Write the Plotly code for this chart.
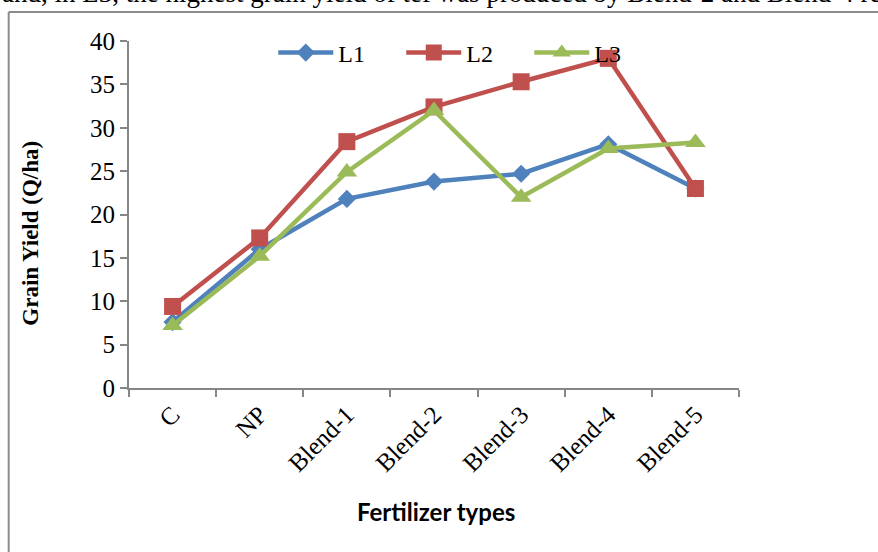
import plotly.graph_objects as go

categories = ["C", "NP", "Blend-1", "Blend-2", "Blend-3", "Blend-4", "Blend-5"]
L1 = [7.6, 16.0, 21.8, 23.8, 24.7, 28.1, 23.0]
L2 = [9.4, 17.3, 28.4, 32.4, 35.3, 38.0, 23.0]
L3 = [7.2, 15.2, 24.9, 32.0, 22.0, 27.6, 28.3]
y_ticks = [0, 5, 10, 15, 20, 25, 30, 35, 40]

W, H = 878, 552
L, R, T, B = 128.5, 138.5, 41, 164
pw, ph = W - L - R, H - T - B

def px(x):
    return (x - L) / pw

def py(y):
    return (H - B - y) / ph

fig = go.Figure()
series = [("L1", L1, "#4F81BD", "diamond", 14),
          ("L2", L2, "#C0504D", "square", 17),
          ("L3", L3, "#9BBB59", "triangle-up", 18)]
for name, vals, col, sym, sz in series:
    fig.add_trace(go.Scatter(
        x=categories, y=vals, name=name, mode="lines+markers",
        line=dict(color=col, width=4.5),
        marker=dict(symbol=sym, size=sz, color=col),
    ))

axis_col = "#868686"
fig.update_layout(
    width=W, height=H,
    margin=dict(l=L, r=R, t=T, b=B),
    paper_bgcolor="white", plot_bgcolor="white",
    font=dict(family="Liberation Serif", size=24, color="black"),
    showlegend=True,
    legend=dict(orientation="h", x=px(273), y=py(53), xanchor="left", yanchor="middle",
                font=dict(family="Liberation Serif", size=24),
                itemwidth=55, entrywidth=58, entrywidthmode="pixels",
                bgcolor="rgba(0,0,0,0)", tracegroupgap=0),
    xaxis=dict(type="category", showgrid=False, showline=True, linecolor=axis_col, linewidth=2,
               ticks="outside", tickson="boundaries", ticklen=7, tickcolor=axis_col, tickwidth=2,
               tickangle=-45, tickfont=dict(family="Liberation Serif", size=25),
               range=[-0.5, 6.5]),
    yaxis=dict(range=[0, 40], tickvals=y_ticks, showgrid=False, showline=True, linecolor=axis_col,
               linewidth=2, ticks="outside", ticklen=7, tickcolor=axis_col, tickwidth=2,
               zeroline=False, tickfont=dict(family="Liberation Serif", size=25)),
)

fig.add_annotation(text="<b>Grain Yield (Q/ha)</b>", xref="paper", yref="paper",
                   x=px(30), y=py(233), textangle=-90, showarrow=False,
                   font=dict(family="Liberation Serif", size=23), xanchor="center", yanchor="middle")
fig.add_annotation(text="<b>Fertilizer types</b>", xref="paper", yref="paper",
                   x=px(436), y=py(511), showarrow=False,
                   font=dict(family="Lato", size=24), xanchor="center", yanchor="middle")
fig.add_annotation(text="and, in L3, the highest grain yield of tef was produced by Blend-2 and Blend-4 respectively",
                   xref="paper", yref="paper", x=px(-1), y=py(-7), showarrow=False,
                   font=dict(family="Liberation Serif", size=27), xanchor="left", yanchor="middle")

fig.add_shape(type="line", xref="paper", yref="paper", x0=px(8), x1=px(8), y0=py(12), y1=py(560),
              line=dict(color="#8c8c8c", width=2))
fig.add_shape(type="line", xref="paper", yref="paper", x0=px(8), x1=px(890), y0=py(12), y1=py(12),
              line=dict(color="#8c8c8c", width=2))

fig.write_html("out.html", config={"displayModeBar": False},
               post_script="document.body.style.margin='0';document.body.style.overflow='hidden';")
